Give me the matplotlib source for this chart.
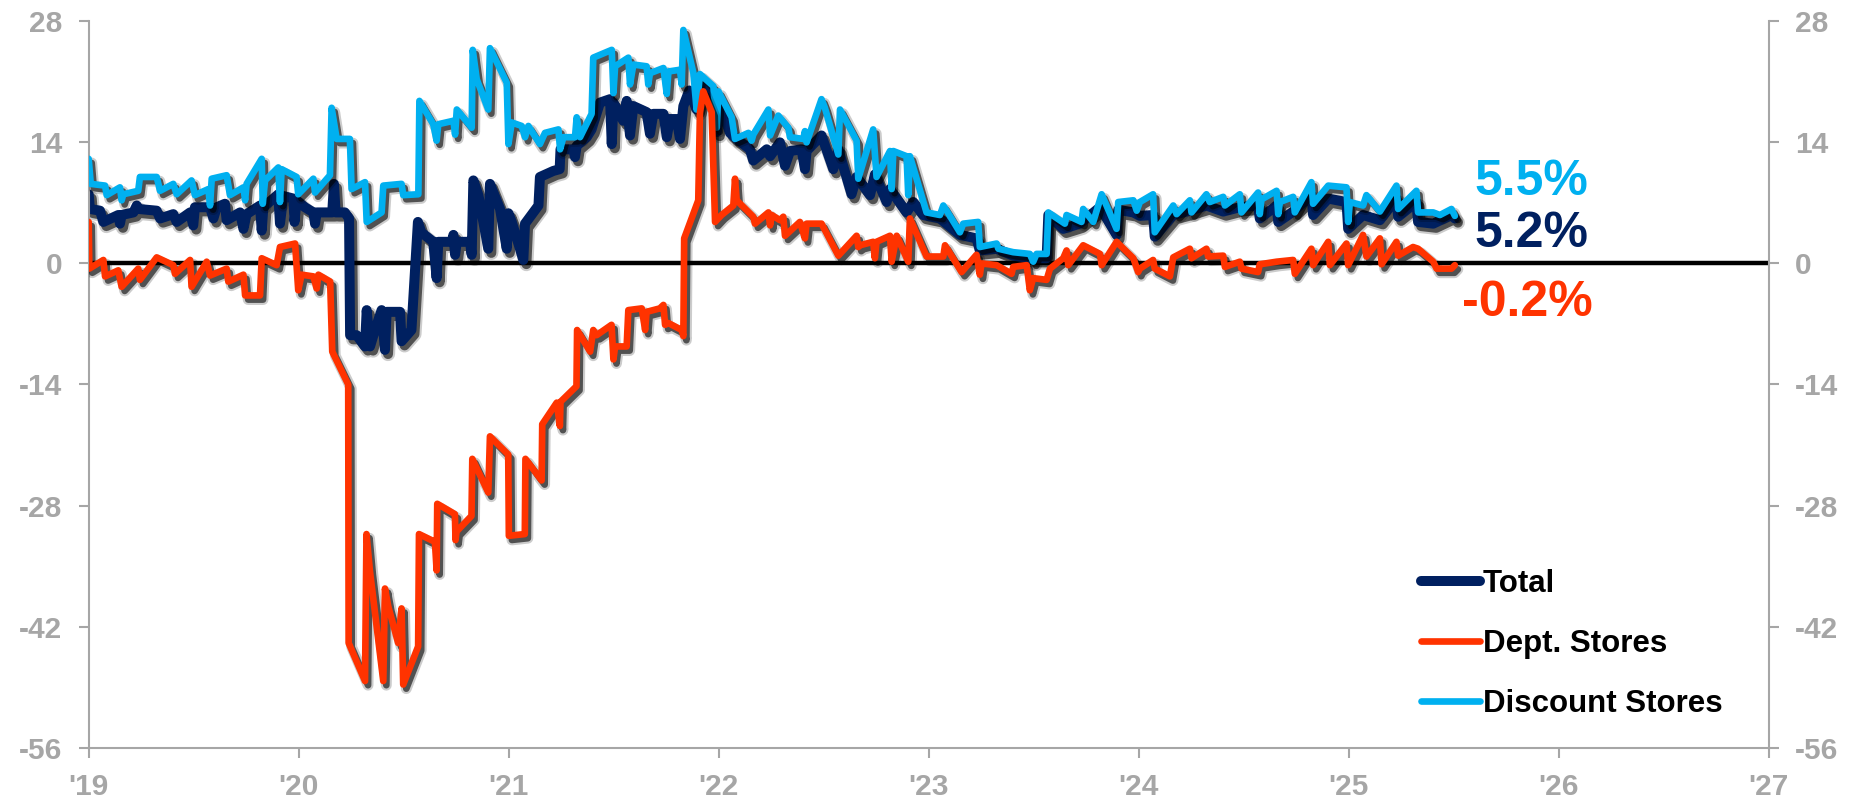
import matplotlib
matplotlib.use("Agg")
import matplotlib.pyplot as plt
import matplotlib.patheffects as pe
from matplotlib.lines import Line2D

plt.rcParams['font.family'] = ['Liberation Sans', 'DejaVu Sans']
plt.rcParams['font.weight'] = 'bold'
plt.rcParams['axes.unicode_minus'] = False

# weekly YoY growth (%), vertices as decimal years
total_t = [2019.000, 2019.006, 2019.054, 2019.070, 2019.141, 2019.149, 2019.157, 2019.213, 2019.229, 2019.237,
           2019.324, 2019.340, 2019.403, 2019.419, 2019.483, 2019.498, 2019.506, 2019.578, 2019.594, 2019.610,
           2019.649, 2019.657, 2019.721, 2019.737, 2019.752, 2019.816, 2019.824, 2019.832, 2019.903, 2019.911,
           2019.927, 2019.975, 2019.980, 2019.990, 2020.030, 2020.070, 2020.078, 2020.086, 2020.160, 2020.168,
           2020.176, 2020.220, 2020.240, 2020.245, 2020.276, 2020.316, 2020.324, 2020.340, 2020.356, 2020.395,
           2020.411, 2020.419, 2020.483, 2020.490, 2020.537, 2020.568, 2020.584, 2020.641, 2020.657, 2020.665,
           2020.729, 2020.737, 2020.745, 2020.753, 2020.816, 2020.824, 2020.832, 2020.856, 2020.903, 2020.911,
           2020.959, 2020.991, 2020.999, 2021.015, 2021.070, 2021.078, 2021.142, 2021.149, 2021.213, 2021.243,
           2021.247, 2021.308, 2021.316, 2021.324, 2021.372, 2021.395, 2021.435, 2021.483, 2021.491, 2021.499,
           2021.546, 2021.562, 2021.578, 2021.594, 2021.657, 2021.673, 2021.689, 2021.737, 2021.753, 2021.768,
           2021.800, 2021.816, 2021.832, 2021.860, 2021.895, 2021.927, 2021.975, 2021.991, 2021.999, 2022.054,
           2022.086, 2022.149, 2022.165, 2022.229, 2022.245, 2022.292, 2022.316, 2022.340, 2022.395, 2022.411,
           2022.419, 2022.490, 2022.546, 2022.570, 2022.633, 2022.657, 2022.721, 2022.744, 2022.800, 2022.816,
           2022.895, 2022.927, 2022.974, 2023.054, 2023.149, 2023.228, 2023.244, 2023.324, 2023.403, 2023.482,
           2023.562, 2023.570, 2023.641, 2023.720, 2023.816, 2023.895, 2023.903, 2023.975, 2024.006, 2024.069,
           2024.077, 2024.165, 2024.244, 2024.323, 2024.403, 2024.482, 2024.569, 2024.577, 2024.657, 2024.665,
           2024.736, 2024.823, 2024.831, 2024.903, 2024.990, 2024.998, 2025.069, 2025.149, 2025.228, 2025.236,
           2025.323, 2025.331, 2025.403, 2025.490, 2025.506]
total_v = [8.0, 6.3, 6.1, 4.8, 5.6, 4.6, 5.6, 5.9, 6.7, 6.3,
           6.1, 5.2, 5.7, 4.8, 5.9, 4.4, 6.5, 6.5, 5.2, 6.5,
           6.9, 5.0, 5.9, 4.0, 5.7, 6.7, 3.8, 6.5, 8.0, 4.6,
           7.8, 7.5, 4.8, 7.3, 6.5, 5.9, 4.6, 5.9, 5.9, 9.2,
           5.9, 5.9, 5.2, -8.3, -8.3, -9.6, -5.4, -9.6, -8.3, -5.4,
           -10.0, -5.6, -5.6, -9.0, -7.7, 4.8, 3.6, 2.5, -1.7, 2.5,
           2.5, 3.3, 1.0, 2.5, 2.5, 1.0, 9.6, 7.9, 1.7, 9.2,
           6.3, 1.7, 5.8, 4.8, 0.4, 4.6, 6.7, 10.0, 10.7, 10.9,
           13.2, 13.2, 12.3, 13.6, 14.6, 15.5, 18.6, 19.0, 13.8, 18.6,
           16.5, 18.8, 14.8, 18.2, 17.5, 15.0, 17.3, 17.3, 14.6, 16.7,
           16.7, 14.4, 18.2, 20.0, 17.8, 20.5, 19.0, 15.2, 18.8, 15.1,
           14.4, 13.2, 11.9, 13.2, 12.4, 14.0, 11.3, 13.0, 13.2, 10.9,
           13.0, 14.8, 10.9, 13.2, 8.0, 10.0, 7.9, 10.3, 7.1, 8.6,
           5.9, 7.1, 5.6, 5.2, 3.3, 2.9, 1.5, 1.7, 0.9, 0.6,
           0.6, 5.6, 4.0, 4.6, 6.5, 3.3, 6.2, 5.9, 5.5, 5.6,
           3.1, 5.6, 6.1, 6.7, 6.0, 6.5, 6.7, 5.2, 6.7, 4.8,
           6.0, 7.9, 5.6, 7.5, 7.1, 4.0, 5.6, 5.0, 7.5, 5.4,
           7.1, 4.8, 4.6, 5.6, 5.2]

dept_t = [2019.000, 2019.003, 2019.070, 2019.078, 2019.141, 2019.157, 2019.236, 2019.244, 2019.324, 2019.403,
          2019.411, 2019.483, 2019.490, 2019.562, 2019.578, 2019.657, 2019.665, 2019.737, 2019.745, 2019.816,
          2019.824, 2019.895, 2019.911, 2019.983, 2019.998, 2020.014, 2020.070, 2020.086, 2020.094, 2020.150,
          2020.160, 2020.236, 2020.238, 2020.316, 2020.323, 2020.339, 2020.403, 2020.411, 2020.427, 2020.474,
          2020.490, 2020.498, 2020.569, 2020.573, 2020.649, 2020.657, 2020.660, 2020.744, 2020.747, 2020.752,
          2020.823, 2020.827, 2020.903, 2020.911, 2020.998, 2021.001, 2021.077, 2021.080, 2021.157, 2021.160,
          2021.229, 2021.244, 2021.247, 2021.323, 2021.326, 2021.388, 2021.403, 2021.419, 2021.490, 2021.499,
          2021.507, 2021.562, 2021.570, 2021.634, 2021.650, 2021.657, 2021.720, 2021.737, 2021.745, 2021.761,
          2021.824, 2021.832, 2021.836, 2021.903, 2021.911, 2021.927, 2021.967, 2021.983, 2022.014, 2022.070,
          2022.078, 2022.086, 2022.165, 2022.173, 2022.237, 2022.245, 2022.253, 2022.292, 2022.308, 2022.316,
          2022.387, 2022.411, 2022.419, 2022.490, 2022.570, 2022.657, 2022.665, 2022.673, 2022.736, 2022.744,
          2022.752, 2022.816, 2022.824, 2022.848, 2022.903, 2022.911, 2022.990, 2023.070, 2023.078, 2023.157,
          2023.228, 2023.244, 2023.252, 2023.324, 2023.395, 2023.403, 2023.467, 2023.482, 2023.498, 2023.562,
          2023.578, 2023.641, 2023.657, 2023.665, 2023.736, 2023.816, 2023.824, 2023.895, 2023.975, 2023.998,
          2024.006, 2024.069, 2024.077, 2024.149, 2024.165, 2024.244, 2024.252, 2024.323, 2024.331, 2024.403,
          2024.411, 2024.482, 2024.490, 2024.569, 2024.577, 2024.657, 2024.736, 2024.744, 2024.823, 2024.831,
          2024.903, 2024.911, 2024.990, 2024.998, 2025.069, 2025.085, 2025.149, 2025.157, 2025.228, 2025.236,
          2025.307, 2025.331, 2025.403, 2025.419, 2025.490, 2025.506]
dept_v = [4.8, -0.6, 0.4, -1.5, -0.8, -2.7, -0.6, -1.9, 0.7, -0.2,
          -1.2, 0.4, -2.7, 0.2, -1.4, -0.6, -2.1, -1.3, -3.7, -3.7,
          0.6, -0.2, 1.9, 2.3, -3.1, -1.3, -1.5, -2.9, -1.3, -2.1,
          -10.2, -14.0, -43.9, -48.3, -31.3, -35.5, -48.3, -37.6, -39.7, -43.9,
          -39.9, -48.7, -44.3, -31.3, -32.2, -35.5, -27.8, -29.0, -32.0, -31.0,
          -29.2, -22.6, -26.5, -20.0, -22.1, -31.5, -31.3, -22.6, -25.1, -18.6,
          -16.1, -18.8, -16.0, -14.2, -7.7, -10.2, -7.7, -8.3, -7.1, -11.1,
          -9.6, -9.6, -5.4, -5.2, -7.7, -5.6, -5.2, -4.8, -7.1, -6.9,
          -7.7, -8.4, 2.9, 7.3, 17.4, 19.9, 17.5, 4.8, 5.6, 6.7,
          9.8, 7.3, 5.4, 4.6, 5.9, 4.4, 5.6, 5.0, 5.4, 3.2,
          4.8, 2.9, 4.6, 4.6, 0.9, 3.2, 1.9, 2.1, 2.5, 0.6,
          2.5, 3.2, 0.2, 3.2, 0.2, 5.2, 0.8, 0.8, 2.1, -1.0,
          1.0, -1.3, 0.0, -0.2, -1.2, -0.4, -0.2, -3.1, -1.7, -1.9,
          -0.6, 0.6, 1.5, -0.2, 2.1, 1.1, -0.2, 2.5, 0.6, -1.0,
          -0.6, 0.4, -0.6, -1.5, 0.7, 1.7, 0.6, 1.7, 0.8, 0.9,
          -0.4, 0.2, -0.6, -1.0, -0.1, 0.2, 0.4, -1.2, 1.7, -0.2,
          2.5, -0.2, 2.3, -0.2, 3.3, 0.8, 2.9, -0.1, 2.5, 0.9,
          1.9, 1.7, 0.2, -0.6, -0.6, -0.2]

disc_t = [2019.000, 2019.010, 2019.078, 2019.086, 2019.149, 2019.157, 2019.165, 2019.236, 2019.244, 2019.324,
          2019.340, 2019.403, 2019.419, 2019.490, 2019.506, 2019.570, 2019.578, 2019.586, 2019.657, 2019.673,
          2019.737, 2019.745, 2019.752, 2019.824, 2019.829, 2019.840, 2019.903, 2019.911, 2019.919, 2019.990,
          2019.998, 2020.070, 2020.078, 2020.149, 2020.157, 2020.181, 2020.244, 2020.252, 2020.316, 2020.324,
          2020.395, 2020.403, 2020.490, 2020.498, 2020.570, 2020.575, 2020.641, 2020.657, 2020.665, 2020.737,
          2020.745, 2020.753, 2020.824, 2020.829, 2020.848, 2020.903, 2020.911, 2020.991, 2020.999, 2021.015,
          2021.062, 2021.078, 2021.094, 2021.149, 2021.173, 2021.237, 2021.245, 2021.261, 2021.316, 2021.324,
          2021.340, 2021.395, 2021.403, 2021.491, 2021.499, 2021.507, 2021.570, 2021.578, 2021.594, 2021.657,
          2021.665, 2021.673, 2021.737, 2021.753, 2021.761, 2021.816, 2021.824, 2021.832, 2021.880, 2021.895,
          2021.911, 2021.975, 2021.991, 2021.999, 2022.062, 2022.078, 2022.142, 2022.157, 2022.165, 2022.237,
          2022.245, 2022.284, 2022.332, 2022.340, 2022.403, 2022.411, 2022.419, 2022.490, 2022.506, 2022.570,
          2022.578, 2022.657, 2022.665, 2022.736, 2022.752, 2022.816, 2022.824, 2022.832, 2022.895, 2022.903,
          2022.911, 2022.990, 2023.054, 2023.070, 2023.086, 2023.149, 2023.165, 2023.236, 2023.244, 2023.324,
          2023.332, 2023.403, 2023.482, 2023.498, 2023.514, 2023.562, 2023.570, 2023.649, 2023.657, 2023.728,
          2023.736, 2023.784, 2023.824, 2023.895, 2023.903, 2023.975, 2023.991, 2024.006, 2024.069, 2024.077,
          2024.165, 2024.181, 2024.244, 2024.252, 2024.323, 2024.339, 2024.403, 2024.411, 2024.482, 2024.490,
          2024.569, 2024.577, 2024.585, 2024.657, 2024.665, 2024.673, 2024.736, 2024.744, 2024.823, 2024.831,
          2024.903, 2024.990, 2024.998, 2025.006, 2025.069, 2025.085, 2025.149, 2025.228, 2025.236, 2025.323,
          2025.331, 2025.403, 2025.435, 2025.490, 2025.506]
disc_v = [12.1, 9.2, 9.0, 7.9, 8.8, 7.3, 8.0, 8.4, 10.0, 10.0,
          8.4, 9.2, 8.0, 9.6, 7.9, 8.6, 6.7, 9.8, 10.2, 7.9,
          8.8, 7.3, 9.2, 12.1, 6.9, 9.6, 11.1, 7.1, 10.9, 10.0,
          8.0, 9.8, 8.2, 10.2, 18.0, 14.4, 14.4, 8.6, 9.4, 4.8,
          5.9, 9.0, 9.2, 7.9, 8.0, 18.8, 16.1, 14.2, 16.1, 16.5,
          14.9, 17.8, 15.7, 24.7, 21.3, 17.8, 24.9, 20.9, 13.8, 16.3,
          15.9, 14.6, 15.9, 13.8, 15.1, 15.5, 13.2, 14.6, 14.6, 16.9,
          14.6, 17.3, 23.8, 24.7, 19.7, 22.8, 23.8, 20.7, 23.0, 22.8,
          20.7, 22.0, 22.6, 19.6, 22.2, 22.4, 20.7, 27.0, 22.0, 17.8,
          21.9, 20.5, 15.7, 19.9, 16.9, 14.4, 15.1, 14.2, 14.9, 17.8,
          14.8, 17.1, 15.7, 14.6, 14.4, 15.3, 14.0, 19.0, 18.0, 12.6,
          17.8, 14.2, 9.8, 15.5, 10.0, 13.0, 8.6, 13.0, 12.4, 7.9,
          12.4, 5.9, 5.6, 6.7, 6.1, 3.6, 4.6, 4.8, 1.9, 2.3,
          1.7, 1.3, 1.1, 0.2, 1.1, 1.1, 5.9, 4.6, 5.6, 4.8,
          6.3, 4.8, 8.0, 4.0, 7.1, 7.3, 6.1, 7.1, 8.0, 3.6,
          6.7, 5.7, 7.3, 5.9, 8.0, 7.1, 7.7, 6.7, 8.0, 5.9,
          8.2, 5.7, 7.4, 8.4, 5.7, 7.1, 7.7, 5.9, 9.4, 6.9,
          9.0, 8.8, 4.8, 7.1, 6.7, 7.9, 6.0, 9.0, 6.3, 8.4,
          5.9, 5.9, 5.6, 6.3, 5.5]

year_ticks = list(range(2019, 2028))
year_labels = ["'19", "'20", "'21", "'22", "'23", "'24", "'25", "'26", "'27"]
y_ticks = [-56, -42, -28, -14, 0, 14, 28]

NAVY = '#002060'
ORANGE = '#FF3300'
BLUE = '#00B0F0'
GREY = '#A6A6A6'

fig = plt.figure(figsize=(18.55, 8.02), dpi=100)
ax = fig.add_axes([0.0478, 0.0678, 0.9056, 0.9056])


def soft_shadow(lw):
    # two stacked offset strokes give a blurred drop shadow
    return [pe.SimpleLineShadow(offset=(2.2, -3.0), shadow_color='black', alpha=0.2, linewidth=lw + 3.0),
            pe.SimpleLineShadow(offset=(2.2, -3.0), shadow_color='black', alpha=0.6, linewidth=lw),
            pe.Normal()]


ax.axhline(0, color='black', lw=3.2, zorder=1)
ax.plot(total_t, total_v, color=NAVY, lw=7.2, solid_capstyle='round', path_effects=soft_shadow(7.2), zorder=2)
ax.plot(disc_t, disc_v, color=BLUE, lw=4.8, solid_capstyle='round', path_effects=soft_shadow(4.8), zorder=3)
ax.plot(dept_t, dept_v, color=ORANGE, lw=4.8, solid_capstyle='round', path_effects=soft_shadow(4.8), zorder=4)

ax.set_xlim(2019, 2027)
ax.set_ylim(-56, 28)
ax.set_xticks(year_ticks)
ax.set_xticklabels(year_labels)
ax.set_yticks(y_ticks)

ax.spines['top'].set_visible(False)
for side in ['left', 'right', 'bottom']:
    ax.spines[side].set_color(GREY)
    ax.spines[side].set_linewidth(1.5)
ax.tick_params(axis='both', colors=GREY, labelcolor=GREY, labelsize=21.5, width=1.5, length=7.2, direction='out')
ax.tick_params(axis='y', left=True, right=True, labelleft=True, labelright=True, pad=12)
ax.tick_params(axis='x', pad=11)

# end-of-series value labels
ax.text(2025.60, 9.4, f'{disc_v[-1]:.1f}%', color=BLUE, fontsize=36, fontweight='bold', va='center', ha='left')
ax.text(2025.60, 3.4, f'{total_v[-1]:.1f}%', color=NAVY, fontsize=36, fontweight='bold', va='center', ha='left')
ax.text(2025.54, -4.6, f'{dept_v[-1]:.1f}%', color=ORANGE, fontsize=36, fontweight='bold', va='center', ha='left')

handles = [Line2D([], [], color=NAVY, lw=7.2, solid_capstyle='round'),
           Line2D([], [], color=ORANGE, lw=4.8, solid_capstyle='round'),
           Line2D([], [], color=BLUE, lw=4.8, solid_capstyle='round')]
ax.legend(handles, ['Total', 'Dept. Stores', 'Discount Stores'], loc='upper left',
          bbox_to_anchor=(0.766, 0.291), bbox_transform=fig.transFigure, frameon=False,
          prop={'size': 22.5, 'weight': 'bold'}, handlelength=1.9, handletextpad=0.08,
          labelspacing=0.97, borderpad=0, borderaxespad=0)

fig.savefig('out.png', dpi=100)
